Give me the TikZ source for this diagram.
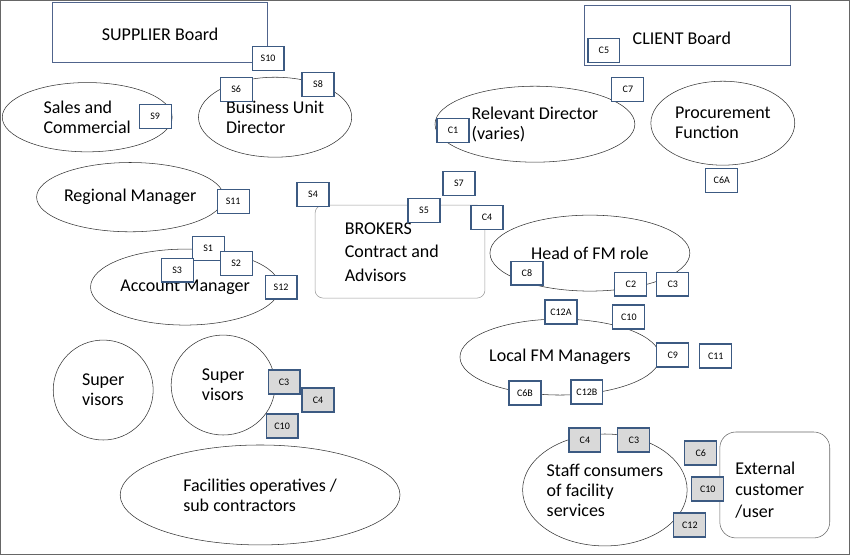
\documentclass[tikz,border=0pt]{standalone}
\usepackage{fontspec}
\setmainfont{Carlito}
\usetikzlibrary{shapes.geometric}
\definecolor{boxblue}{RGB}{60,90,130}
\definecolor{boardblue}{RGB}{80,100,140}
\tikzset{
  oval/.style={draw=black!80, ellipse, fill=white, align=left, inner sep=0pt, font=\fontsize{13.5}{15}\selectfont},
  board/.style={draw=boardblue, fill=white},
  sbox/.style={draw=boxblue, fill=white, line width=0.9pt, minimum width=24pt, minimum height=18pt, inner sep=1pt, font=\fontsize{7.5}{8}\selectfont},
  gbox/.style={sbox, fill=black!15}
}
\begin{document}
\begin{tikzpicture}[x=0.75pt,y=-0.75pt]
        \draw[black!60, fill=white] (0,0) rectangle (850,554);
        % boards
        \draw[board] (52,2) rectangle (267,62);
        \node[font=\fontsize{13.5}{15}\selectfont] (supplier) at (160,34) {SUPPLIER Board};
        \draw[board] (584,5) rectangle (790,65);
        \node[font=\fontsize{13.5}{15}\selectfont] (client) at (682,38) {CLIENT Board};
        % ovals
        \node[oval, minimum width=127.5pt, minimum height=52pt] (sales) at (87,117) {Sales and\\Commercial};
        \node[oval, minimum width=115pt, minimum height=60pt] (bud) at (275,117) {Business Unit\\Director};
        \node[oval, minimum width=150pt, minimum height=57pt] (reldir) at (535,124) {Relevant Director\\(varies)};
        \node[oval, minimum width=108pt, minimum height=63pt] (proc) at (723,123) {Procurement\\Function};
        \node[oval, minimum width=140pt, minimum height=52pt] (regman) at (130,197) {Regional Manager};
        \node[oval, minimum width=142pt, minimum height=57pt] (accman) at (185,287) {Account Manager};
        \draw[black!40, rounded corners=6pt, fill=white] (315,205) rectangle (485,298);
        \node[align=left, font=\fontsize{13.5}{17.5}\selectfont, anchor=north west] (brokers) at (340,218) {BROKERS\\Contract and\\Advisors};
        \node[oval, minimum width=150pt, minimum height=57pt] (headfm) at (590,253) {Head of FM role};
        \node[oval, minimum width=142pt, minimum height=57pt] (localfm) at (560,357) {Local FM Managers};
        \node[oval, minimum width=75pt, minimum height=75pt] (supa) at (103,390) {Super\\visors};
        \node[oval, minimum width=78pt, minimum height=75pt] (supb) at (223,385) {Super\\visors};
        \node[oval, minimum width=210pt, minimum height=75pt] (facops) at (260,495) {Facilities operatives /\\sub contractors};
        \node[oval, minimum width=122pt, minimum height=84pt] (staff) at (605,490) {Staff consumers\\of facility\\services};
        \draw[black!60, rounded corners=12pt, fill=white] (720,432) rectangle (830,538);
        \node[align=left, font=\fontsize{13.5}{16}\selectfont] (extcust) at (770,490) {External\\customer\\/user};
        % supplier boxes
        \node[sbox] (s10) at (268,58) {S10};
        \node[sbox] (s6) at (236,89) {S6};
        \node[sbox] (s8) at (318,84) {S8};
        \node[sbox] (s9) at (155,116) {S9};
        \node[sbox] (s11) at (233,201) {S11};
        \node[sbox] (s4) at (313,194) {S4};
        \node[sbox] (s7) at (459,183) {S7};
        \node[sbox] (s5) at (424,210) {S5};
        \node[sbox] (s1) at (208,248) {S1};
        \node[sbox] (s2) at (236,263) {S2};
        \node[sbox] (s3) at (177,270) {S3};
        \node[sbox] (s12) at (281,287) {S12};
        % client boxes
        \node[sbox] (c5) at (604,50) {C5};
        \node[sbox] (c7) at (628,89) {C7};
        \node[sbox] (c1) at (453,130) {C1};
        \node[sbox] (c6a) at (722,180) {C6A};
        \node[sbox] (c4) at (487,217) {C4};
        \node[sbox] (c8) at (527,273) {C8};
        \node[sbox] (c2) at (631,284) {C2};
        \node[sbox] (c3) at (673,284) {C3};
        \node[sbox] (c12a) at (561,312) {C12A};
        \node[sbox] (c10) at (629,317) {C10};
        \node[sbox] (c9) at (673,355) {C9};
        \node[sbox] (c11) at (716,356) {C11};
        \node[sbox] (c6b) at (525,393) {C6B};
        \node[sbox] (c12b) at (587,392) {C12B};
        % shaded boxes
        \node[gbox] (gc3a) at (284,382) {C3};
        \node[gbox] (gc4a) at (318,400) {C4};
        \node[gbox] (gc10a) at (282,426) {C10};
        \node[gbox] (gc4b) at (585,440) {C4};
        \node[gbox] (gc3b) at (634,440) {C3};
        \node[gbox] (gc6) at (701,453) {C6};
        \node[gbox] (gc10b) at (708,489) {C10};
        \node[gbox] (gc12) at (690,525) {C12};
    \end{tikzpicture}
\end{document}
